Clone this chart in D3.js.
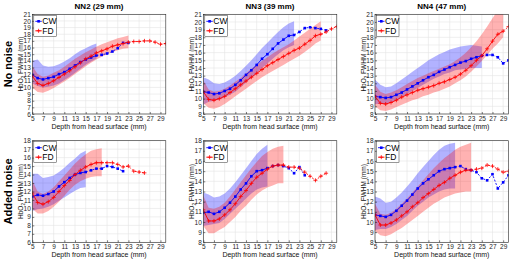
<!DOCTYPE html>
<html>
<head>
<meta charset="utf-8">
<script src="https://cdn.jsdelivr.net/npm/d3@7"></script>
<style>
  body { margin: 0; background: #fff; }
  svg { font-family: "Liberation Sans", Arial, sans-serif; }
</style>
</head>
<body>
<svg id="chart" width="510" height="260"></svg>
<script>
// depth from head surface (mm), one value per point
const depth = [5, 6, 7, 8, 9, 10, 11, 12, 13, 14, 15, 16, 17, 18, 19, 20, 21, 22, 23, 24, 25, 26, 27, 28, 29, 30]
const xTickLabels = [5, 7, 9, 11, 13, 15, 17, 19, 21, 23, 25, 27, 29]
const titles = ["NN2 (29 mm)", "NN3 (39 mm)", "NN4 (47 mm)"]
const rowLabels = ["No noise", "Added noise"]

// ---- No noise ----
const nn2CleanCw = [11.9, 11.4, 11.2, 11.4, 11.6, 12.0, 12.3, 12.8, 13.3, 13.8, 14.2, 14.5, 14.8, 14.9, 15.1, 15.4, 15.9, 16.7, 16.7]
const nn2CleanFd = [11.7, 10.6, 10.3, 10.6, 11.0, 11.5, 12.0, 12.5, 13.1, 13.7, 14.3, 14.7, 15.2, 15.5, 15.8, 16.2, 16.4, 16.6, 16.8, 16.9, 16.9, 17.0, 17.0, 16.8, 16.5, 16.6]
const nn2CleanCwHi = [14.0, 14.2, 13.3, 13.1, 13.2, 13.5, 13.9, 14.4, 15.0, 15.5, 15.9, 16.3, 16.6]
const nn2CleanCwLo = [10.6, 10.2, 10.0, 10.1, 10.3, 10.6, 11.1, 11.6, 12.2, 12.8, 13.4, 13.9, 14.3]
const nn2CleanFdHi = [13.2, 12.0, 11.6, 11.8, 12.2, 12.6, 13.1, 13.7, 14.3, 14.8, 15.3, 15.7, 16.1, 16.5, 16.8, 17.1, 17.4, 17.6, 17.8]
const nn2CleanFdLo = [10.0, 9.3, 9.2, 9.5, 9.9, 10.4, 10.9, 11.4, 12.0, 12.6, 13.2, 13.7, 14.2, 14.6, 15.0, 15.3, 15.6, 15.8, 15.9]

const nn3CleanCw = [10.9, 10.8, 10.6, 10.7, 11.0, 11.3, 11.8, 12.4, 13.1, 13.7, 14.4, 15.2, 15.8, 16.5, 17.2, 17.7, 18.2, 18.3, 18.7, 19.2, 19.3, 19.2, 19.1, 18.9]
const nn3CleanFd = [10.9, 9.9, 9.8, 10.0, 10.3, 10.8, 11.3, 11.8, 12.3, 12.8, 13.3, 13.8, 14.3, 14.7, 15.1, 15.5, 15.9, 16.3, 16.6, 17.1, 17.6, 18.2, 18.4, 18.7, 19.1, 19.4]
const nn3CleanCwHi = [12.8, 12.5, 12.0, 11.9, 12.1, 12.5, 13.0, 13.6, 14.3, 15.0, 15.8, 16.6, 17.3, 18.0, 18.7, 19.3, 19.8, 20.1]
const nn3CleanCwLo = [9.2, 9.6, 9.7, 9.9, 10.2, 10.5, 10.9, 11.5, 12.1, 12.7, 13.3, 14.0, 14.6, 15.2, 15.8, 16.3, 16.7, 17.0]
const nn3CleanFdHi = [12.4, 11.2, 10.9, 11.0, 11.3, 11.7, 12.2, 12.7, 13.3, 13.9, 14.4, 14.9, 15.4, 15.9, 16.3, 16.7, 17.1, 17.6, 18.1, 18.6, 19.1, 19.6, 20.1]
const nn3CleanFdLo = [9.4, 8.8, 8.7, 8.9, 9.3, 9.8, 10.3, 10.8, 11.3, 11.8, 12.3, 12.8, 13.2, 13.6, 14.0, 14.4, 14.8, 15.2, 15.6, 16.1, 16.6, 17.2, 17.6]

const nn4CleanCw = [10.3, 10.2, 10.1, 10.2, 10.5, 10.8, 11.2, 11.6, 12.0, 12.4, 12.8, 13.1, 13.5, 13.8, 14.1, 14.4, 14.7, 14.9, 15.2, 15.4, 15.6, 15.7, 15.7, 15.4, 14.6, 15.0]
const nn4CleanFd = [10.3, 9.4, 9.3, 9.5, 9.8, 10.2, 10.5, 10.8, 11.1, 11.3, 11.5, 11.7, 12.0, 12.2, 12.5, 12.8, 13.2, 13.7, 14.3, 15.0, 15.6, 16.5, 17.5, 18.4, 18.8, 19.4]
const nn4CleanCwHi = [12.5, 11.8, 11.5, 11.6, 12.0, 12.5, 13.0, 13.5, 14.0, 14.5, 15.0, 15.4, 15.8, 16.1, 16.4, 16.6, 16.8, 16.9, 17.0, 16.9, 16.8]
const nn4CleanCwLo = [9.3, 9.3, 9.3, 9.5, 9.8, 10.2, 10.6, 11.0, 11.4, 11.8, 12.2, 12.6, 12.9, 13.2, 13.4, 13.7, 13.8, 13.9, 14.0, 14.0, 14.0]
const nn4CleanFdHi = [11.8, 10.9, 10.6, 10.8, 11.1, 11.5, 11.9, 12.3, 12.7, 13.0, 13.3, 13.6, 13.9, 14.2, 14.5, 14.9, 15.4, 16.0, 16.7, 17.5, 18.4, 19.4, 20.5, 21.5, 22.5]
const nn4CleanFdLo = [9.0, 8.5, 8.4, 8.6, 8.9, 9.2, 9.5, 9.8, 10.0, 10.3, 10.5, 10.8, 11.0, 11.3, 11.6, 12.0, 12.4, 12.9, 13.5, 14.2, 14.9, 15.7, 16.5, 17.2, 18.0]

// ---- Added noise ----
const nn2NoiseCw = [11.4, 11.6, 11.5, 11.7, 12.0, 12.6, 13.1, 13.6, 14.0, 14.2, 14.3, 14.5, 14.7, 14.7, 15.0, 14.9, 14.7, 14.4]
const nn2NoiseFd = [11.8, 10.7, 10.5, 10.8, 11.3, 12.0, 12.7, 13.3, 14.0, 14.5, 14.9, 15.2, 15.4, 15.4, 15.4, 15.4, 15.2, 14.9, 15.0, 14.4, 14.3, 14.2]
const nn2NoiseCwHi = [14.1, 14.1, 13.6, 13.7, 13.9, 14.3, 14.8, 15.4, 15.9, 16.5, 16.8]
const nn2NoiseCwLo = [9.7, 9.9, 10.0, 10.2, 10.5, 10.9, 11.3, 11.7, 12.1, 12.4, 12.5]
const nn2NoiseFdHi = [13.3, 12.0, 11.7, 12.0, 12.5, 13.2, 13.9, 14.6, 15.3, 15.9, 16.4, 16.8, 17.0, 17.1]
const nn2NoiseFdLo = [10.0, 9.4, 9.4, 9.7, 10.2, 10.8, 11.5, 12.2, 12.8, 13.2, 13.5, 13.7, 13.8, 13.8]

const nn3NoiseCw = [10.9, 11.0, 10.8, 11.0, 11.4, 11.9, 12.5, 13.2, 13.8, 14.5, 15.0, 15.1, 15.3, 15.5, 15.6, 15.5, 15.3, 14.8, 15.4, 14.6]
const nn3NoiseFd = [11.2, 10.1, 10.1, 10.3, 10.7, 11.2, 11.8, 12.5, 13.1, 13.8, 14.4, 14.8, 15.2, 15.5, 15.6, 15.6, 15.4, 15.4, 15.3, 14.9, 14.5, 14.1, 14.5, 14.8]
const nn3NoiseCwHi = [12.9, 12.7, 12.4, 12.5, 12.8, 13.3, 13.9, 14.6, 15.3, 16.0, 16.7, 17.2, 17.6]
const nn3NoiseCwLo = [9.6, 9.7, 9.8, 9.9, 10.3, 10.8, 11.3, 11.8, 12.3, 12.8, 13.2, 13.4, 13.5]
const nn3NoiseFdHi = [12.6, 11.4, 11.3, 11.5, 11.9, 12.5, 13.2, 13.9, 14.6, 15.3, 15.9, 16.5, 16.9, 17.2, 17.4, 17.5]
const nn3NoiseFdLo = [9.6, 8.9, 8.9, 9.2, 9.5, 10.0, 10.5, 11.1, 11.6, 12.2, 12.7, 13.1, 13.4, 13.6, 13.8, 13.8]

const nn4NoiseCw = [10.7, 10.6, 10.5, 10.7, 11.1, 11.6, 12.1, 12.7, 13.3, 13.8, 14.2, 14.6, 15.0, 15.2, 15.3, 15.4, 15.5, 15.2, 15.1, 14.9, 14.3, 14.1, 14.7, 13.3, 13.9, 14.6]
const nn4NoiseFd = [10.7, 9.7, 9.7, 9.9, 10.2, 10.6, 11.0, 11.5, 11.9, 12.4, 12.8, 13.2, 13.6, 13.9, 14.3, 14.6, 14.9, 15.1, 15.1, 15.2, 15.3, 15.6, 15.5, 15.2, 14.9, 15.0]
const nn4NoiseCwHi = [12.5, 12.3, 11.9, 12.0, 12.4, 12.9, 13.5, 14.1, 14.8, 15.4, 16.0, 16.6, 17.1, 17.5, 17.7, 17.8]
const nn4NoiseCwLo = [9.2, 9.3, 9.3, 9.5, 9.8, 10.2, 10.6, 11.1, 11.6, 12.0, 12.4, 12.7, 13.0, 13.2, 13.3, 13.3]
const nn4NoiseFdHi = [11.8, 10.8, 10.7, 10.9, 11.3, 11.8, 12.3, 12.9, 13.5, 14.1, 14.7, 15.3, 15.8, 16.3, 16.7, 17.1, 17.4, 17.6, 17.8]
const nn4NoiseFdLo = [9.1, 8.7, 8.6, 8.8, 9.1, 9.4, 9.8, 10.2, 10.6, 11.0, 11.4, 11.8, 12.1, 12.4, 12.6, 12.8, 12.9, 13.0, 13.0]

const panels = [
    { row: 0, col: 0, yDomain: [6, 21], cw: nn2CleanCw, fd: nn2CleanFd, cwHi: nn2CleanCwHi, cwLo: nn2CleanCwLo, fdHi: nn2CleanFdHi, fdLo: nn2CleanFdLo },
    { row: 0, col: 1, yDomain: [8, 21], cw: nn3CleanCw, fd: nn3CleanFd, cwHi: nn3CleanCwHi, cwLo: nn3CleanCwLo, fdHi: nn3CleanFdHi, fdLo: nn3CleanFdLo },
    { row: 0, col: 2, yDomain: [8, 21], cw: nn4CleanCw, fd: nn4CleanFd, cwHi: nn4CleanCwHi, cwLo: nn4CleanCwLo, fdHi: nn4CleanFdHi, fdLo: nn4CleanFdLo },
    { row: 1, col: 0, yDomain: [6, 18], cw: nn2NoiseCw, fd: nn2NoiseFd, cwHi: nn2NoiseCwHi, cwLo: nn2NoiseCwLo, fdHi: nn2NoiseFdHi, fdLo: nn2NoiseFdLo },
    { row: 1, col: 1, yDomain: [8, 18], cw: nn3NoiseCw, fd: nn3NoiseFd, cwHi: nn3NoiseCwHi, cwLo: nn3NoiseCwLo, fdHi: nn3NoiseFdHi, fdLo: nn3NoiseFdLo },
    { row: 1, col: 2, yDomain: [8, 18], cw: nn4NoiseCw, fd: nn4NoiseFd, cwHi: nn4NoiseCwHi, cwLo: nn4NoiseCwLo, fdHi: nn4NoiseFdHi, fdLo: nn4NoiseFdLo },
]

// layout
const colLeft = [32.3, 203.3, 375]
const plotW = 133.5
const rowTop = [14.3, 140.7]
const plotH = [99.7, 101.6]
const blue = "#0000ff", red = "#ff0000"

const svg = d3.select("#chart")

// row labels
rowLabels.forEach((t, i) => {
    svg.append("text")
        .attr("transform", `translate(12,${rowTop[i] + plotH[i] / 2}) rotate(-90)`)
        .attr("text-anchor", "middle")
        .attr("font-size", 11)
        .attr("font-weight", "bold")
        .text(t)
})

panels.forEach((p, i) => {
    const x0 = colLeft[p.col], y0 = rowTop[p.row], h = plotH[p.row]
    const x = d3.scaleLinear().domain([5, 30]).range([x0, x0 + plotW])
    const y = d3.scaleLinear().domain(p.yDomain).range([y0 + h, y0])
    const g = svg.append("g")

    g.append("clipPath").attr("id", "clip" + i)
        .append("rect").attr("x", x0).attr("y", y0).attr("width", plotW).attr("height", h)

    // grid
    g.append("g").selectAll("line").data(xTickLabels).join("line")
        .attr("x1", d => x(d)).attr("x2", d => x(d))
        .attr("y1", y0).attr("y2", y0 + h)
        .attr("stroke", "#e4e4e4").attr("stroke-width", 0.6)
    g.append("g").selectAll("line").data(y.ticks(p.yDomain[1] - p.yDomain[0])).join("line")
        .attr("x1", x0).attr("x2", x0 + plotW)
        .attr("y1", d => y(d)).attr("y2", d => y(d))
        .attr("stroke", "#e4e4e4").attr("stroke-width", 0.6)

    const plot = g.append("g").attr("clip-path", `url(#clip${i})`)

    // shaded bands
    const band = (hi, lo) => d3.area()
        .x((d, k) => x(depth[k]))
        .y0((d, k) => y(lo[k]))
        .y1(d => y(d))(hi)
    plot.append("path").attr("d", band(p.cwHi, p.cwLo))
        .attr("fill", blue).attr("fill-opacity", 0.3)
    plot.append("path").attr("d", band(p.fdHi, p.fdLo))
        .attr("fill", red).attr("fill-opacity", 0.3)

    // lines: solid over the band range, dashed after
    const drawSeries = (vals, nSolid, color, marker) => {
        const pts = vals.map((v, k) => [x(depth[k]), y(v)])
        const line = d3.line()
        plot.append("path").attr("d", line(pts.slice(0, nSolid)))
            .attr("fill", "none").attr("stroke", color).attr("stroke-width", 0.9)
        plot.append("path").attr("d", line(pts.slice(nSolid - 1)))
            .attr("fill", "none").attr("stroke", color).attr("stroke-width", 0.9)
            .attr("stroke-dasharray", "2,1.6")
        if (marker === "sq") {
            plot.append("g").selectAll("rect").data(pts).join("rect")
                .attr("x", d => d[0] - 1.3).attr("y", d => d[1] - 1.3)
                .attr("width", 2.6).attr("height", 2.6).attr("fill", color)
        } else {
            plot.append("g").selectAll("path").data(pts).join("path")
                .attr("d", d => `M${d[0] - 2},${d[1]}h4M${d[0]},${d[1] - 2}v4`)
                .attr("stroke", color).attr("stroke-width", 0.8)
        }
    }
    drawSeries(p.cw, p.cwHi.length, blue, "sq")
    drawSeries(p.fd, p.fdHi.length, red, "plus")

    // frame
    g.append("rect").attr("x", x0).attr("y", y0).attr("width", plotW).attr("height", h)
        .attr("fill", "none").attr("stroke", "#262626").attr("stroke-width", 0.6)

    // axes
    const xAxis = d3.axisBottom(x).tickValues(xTickLabels).tickSize(-2).tickPadding(2).tickFormat(d3.format("d"))
    const yAxis = d3.axisLeft(y).ticks(p.yDomain[1] - p.yDomain[0]).tickSize(-2).tickPadding(1.5).tickFormat(d3.format("d"))
    const ax = g.append("g").attr("transform", `translate(0,${y0 + h})`).call(xAxis)
    const ay = g.append("g").attr("transform", `translate(${x0},0)`).call(yAxis)
    for (const a of [ax, ay]) {
        a.select(".domain").remove()
        a.selectAll("line").attr("stroke", "#262626").attr("stroke-width", 0.6)
        a.selectAll("text").attr("font-size", 6.5).attr("fill", "#262626").attr("font-family", "Liberation Sans, Arial, sans-serif")
    }

    // x label
    g.append("text")
        .attr("x", x0 + plotW / 2).attr("y", y0 + h + 15)
        .attr("text-anchor", "middle").attr("font-size", 7).attr("fill", "#111")
        .text("Depth from head surface (mm)")

    // y label
    const yl = g.append("text")
        .attr("transform", `translate(${x0 - 9},${y0 + h / 2}) rotate(-90)`)
        .attr("text-anchor", "middle").attr("font-size", 6.5).attr("fill", "#111")
    yl.append("tspan").text("HbO")
    yl.append("tspan").attr("font-size", 4.5).attr("dy", 1.5).text("2")
    yl.append("tspan").attr("dy", -1.5).text(" FWHM (mm)")

    // title
    if (p.row === 0) {
        g.append("text")
            .attr("x", x0 + plotW / 2).attr("y", 8.5)
            .attr("text-anchor", "middle").attr("font-size", 8).attr("font-weight", "bold")
            .text(titles[p.col])
    }

    // legend
    const lg = g.append("g").attr("transform", `translate(${x0 + 1.5},${y0 + 1})`)
    lg.append("rect").attr("width", 22.5).attr("height", 21)
        .attr("fill", "#fff").attr("stroke", "#333").attr("stroke-width", 0.5)
    const items = [{ name: "CW", color: blue, marker: "sq" }, { name: "FD", color: red, marker: "plus" }]
    items.forEach((it, k) => {
        const cy = 6 + k * 9.5
        lg.append("line").attr("x1", 1.5).attr("x2", 8).attr("y1", cy).attr("y2", cy)
            .attr("stroke", it.color).attr("stroke-width", 0.9)
        if (it.marker === "sq") {
            lg.append("rect").attr("x", 3.5).attr("y", cy - 1.3).attr("width", 2.6).attr("height", 2.6).attr("fill", it.color)
        } else {
            lg.append("path").attr("d", `M2.8,${cy}h4M4.8,${cy - 2}v4`).attr("stroke", it.color).attr("stroke-width", 0.8)
        }
        lg.append("text").attr("x", 8.5).attr("y", cy + 3).attr("font-size", 8.5).text(it.name)
    })
})
</script>
</body>
</html>
